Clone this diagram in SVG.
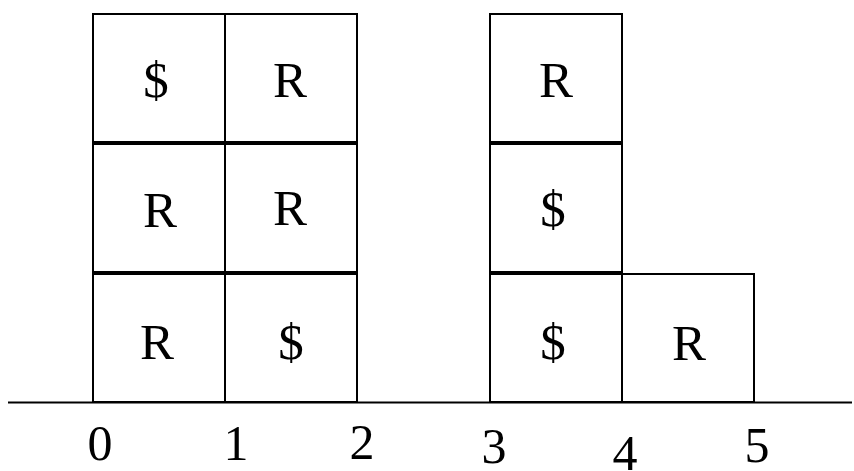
<svg xmlns="http://www.w3.org/2000/svg" width="854" height="471" viewBox="0 0 854 471">
<style>
.box{fill:#fff;stroke:#000;stroke-width:2}
.t{font-family:"Liberation Serif","Times New Roman",serif;font-size:51px;text-anchor:middle;fill:#000}
.n{font-family:"Liberation Serif","Times New Roman",serif;font-size:50px;text-anchor:middle;fill:#000}
</style>
<rect width="854" height="471" fill="#fff"/>
<g id="c0r2"><rect class="box" x="93" y="14" width="132" height="128"/><text class="t" x="156" y="97">$</text></g>
<g id="c1r2"><rect class="box" x="225" y="14" width="132" height="128"/><text class="t" x="290" y="97">R</text></g>
<g id="c0r1"><rect class="box" x="93" y="144" width="132" height="128"/><text class="t" x="160" y="227">R</text></g>
<g id="c1r1"><rect class="box" x="225" y="144" width="132" height="128"/><text class="t" x="290" y="225">R</text></g>
<g id="c0r0"><rect class="box" x="93" y="274" width="132" height="128"/><text class="t" x="157" y="359">R</text></g>
<g id="c1r0"><rect class="box" x="225" y="274" width="132" height="128"/><text class="t" x="291" y="359">$</text></g>
<g id="c3r2"><rect class="box" x="490" y="14" width="132" height="128"/><text class="t" x="556" y="97">R</text></g>
<g id="c3r1"><rect class="box" x="490" y="144" width="132" height="128"/><text class="t" x="553" y="226">$</text></g>
<g id="c3r0"><rect class="box" x="490" y="274" width="132" height="128"/><text class="t" x="553" y="359">$</text></g>
<g id="c4r0"><rect class="box" x="622" y="274" width="132" height="128"/><text class="t" x="689" y="360">R</text></g>
<g id="axis">
<line x1="8" y1="402.5" x2="852" y2="402.5" stroke="#000" stroke-width="2"/>
<text class="n" x="100" y="460">0</text>
<text class="n" x="236" y="460">1</text>
<text class="n" x="362" y="459">2</text>
<text class="n" x="494" y="463">3</text>
<text class="n" x="625" y="470">4</text>
<text class="n" x="757" y="462">5</text>
</g>
</svg>
